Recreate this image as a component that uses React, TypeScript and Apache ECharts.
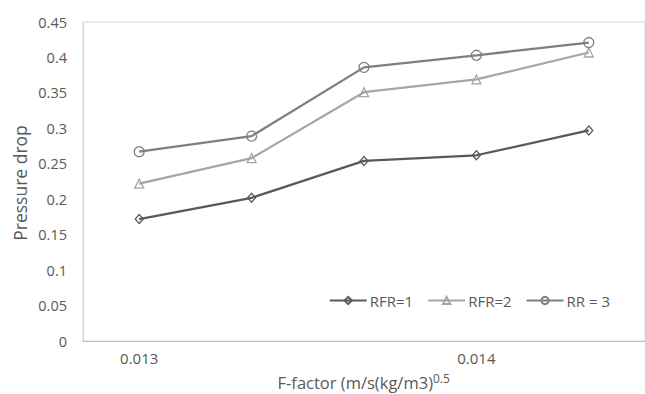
import React, { useEffect, useRef } from "react";
import * as echarts from "echarts";

const categories = ["0.013", "0.0133", "0.0137", "0.014", "0.0143"];
const rfr1 = [0.172, 0.202, 0.254, 0.262, 0.297];
const rfr2 = [0.222, 0.258, 0.351, 0.369, 0.407];
const rr3 = [0.267, 0.289, 0.386, 0.403, 0.421];
const seriesNames = ["RFR=1", "RFR=2", "RR = 3"];

const FONT = "'Open Sans'";
const TXT = "#595959";

export default function App() {
  const ref = useRef<HTMLDivElement>(null);
  useEffect(() => {
    if (!ref.current) return;
    const chart = echarts.init(ref.current, undefined, { renderer: "svg" });
    const mk = (name: string, data: number[], color: string, symbol: string, size: any) => ({
      name,
      type: "line",
      data,
      symbol,
      symbolSize: size,
      showSymbol: true,
      lineStyle: { color, width: 2.25 },
      itemStyle: { color: "transparent", borderColor: color, borderWidth: 1.3 },
      emphasis: { disabled: true },
    });
    chart.setOption({
      animation: false,
      textStyle: { fontFamily: FONT },
      grid: {
        left: 83,
        right: -3,
        top: 22,
        bottom: 53,
        show: true,
        borderColor: "#d9d9d9",
        borderWidth: 1,
      },
      legend: {
        right: 30,
        top: 288,
        itemWidth: 37,
        itemHeight: 9,
        itemGap: 14,
        textStyle: { fontFamily: FONT, fontSize: 15, color: TXT, padding: [0, 0, 0, -2] },
        data: seriesNames,
      },
      xAxis: {
        type: "category",
        data: categories,
        boundaryGap: true,
        axisLine: { show: true, lineStyle: { color: "#bfbfbf", width: 1 } },
        axisTick: { show: false },
        splitLine: { show: false },
        axisLabel: { interval: 2, color: TXT, fontSize: 15, fontFamily: FONT, margin: 9 },
      },
      yAxis: {
        type: "value",
        min: 0,
        max: 0.45,
        interval: 0.05,
        axisLine: { show: true, lineStyle: { color: "#d9d9d9", width: 1 } },
        axisTick: { show: false },
        splitLine: { show: false },
        axisLabel: {
          color: TXT,
          fontSize: 14.5,
          fontFamily: FONT,
          margin: 16,
          formatter: (v: number) => String(+v.toFixed(2)),
        },
      },
      graphic: [
        {
          type: "text",
          x: 20,
          y: 183,
          rotation: Math.PI / 2,
          style: {
            text: "Pressure drop",
            fill: TXT,
            font: `17.5px ${FONT}`,
            textAlign: "center",
            textVerticalAlign: "middle",
          },
        },
        {
          type: "text",
          x: 433,
          y: 382,
          style: {
            text: "F-factor (m/s(kg/m3)",
            fill: TXT,
            font: `16.5px ${FONT}`,
            textAlign: "right",
            textVerticalAlign: "middle",
          },
        },
        {
          type: "text",
          x: 433,
          y: 378,
          style: {
            text: "0.5",
            fill: TXT,
            font: `12px ${FONT}`,
            textAlign: "left",
            textVerticalAlign: "middle",
          },
        },
      ],
      series: [
        mk(seriesNames[0], rfr1, "#595959", "diamond", [8, 9]),
        mk(seriesNames[1], rfr2, "#a6a6a6", "triangle", 9),
        mk(seriesNames[2], rr3, "#7f7f7f", "circle", 10),
      ],
    });
    return () => chart.dispose();
  }, []);
  return (
    <div
      ref={ref}
      style={{ position: "fixed", left: 0, top: 0, width: 645, height: 394, background: "#fff" }}
    />
  );
}
